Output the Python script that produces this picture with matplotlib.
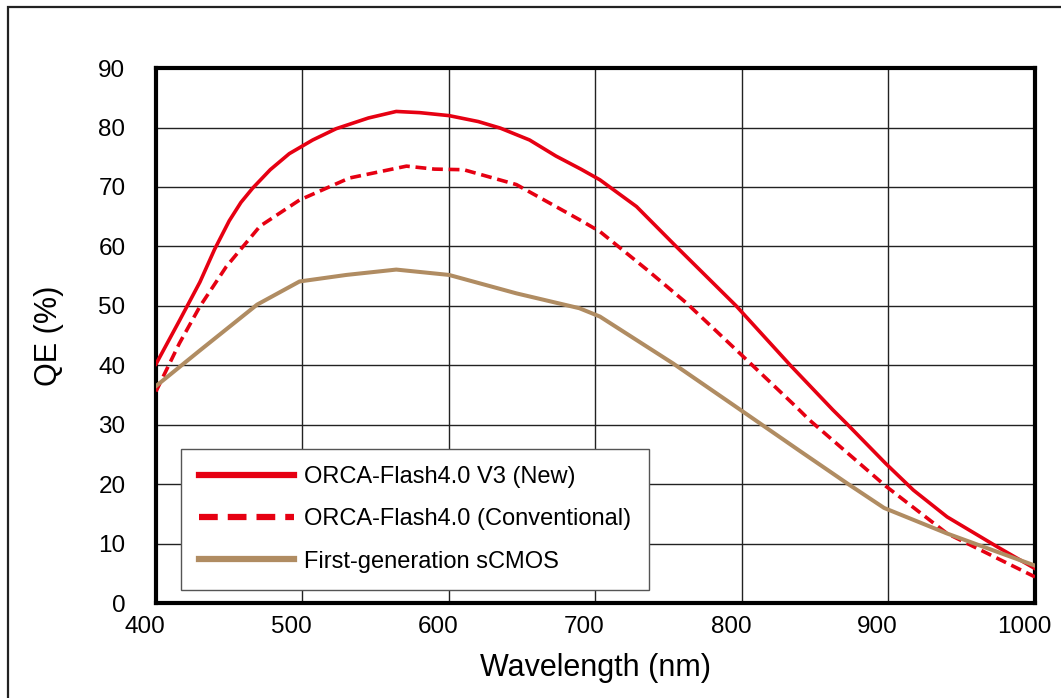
import matplotlib
matplotlib.use("Agg")
import matplotlib.pyplot as plt
from matplotlib.patches import Rectangle
from matplotlib.transforms import ScaledTranslation

plt.rcParams['font.family'] = ['Liberation Sans', 'DejaVu Sans']

# QE curves
wl_v3 = [400, 416, 430, 440, 450, 458, 466, 478, 491, 507, 523, 545, 564, 580, 600, 620, 635, 655, 673, 690,
         703, 728, 755, 796, 833, 862, 871, 898, 917, 940, 974, 1000]
qe_v3 = [40.2, 47.5, 54.0, 59.5, 64.3, 67.4, 69.8, 72.9, 75.6, 77.9, 79.8, 81.6, 82.7, 82.5, 82.0, 81.0, 79.9, 77.9, 75.2, 73.0,
         71.2, 66.7, 60.0, 50.0, 40.0, 32.5, 30.3, 23.5, 19.0, 14.5, 9.5, 5.8]

wl_conv = [400, 416, 430, 448, 471, 498, 532, 571, 590, 610, 646, 689, 703, 735, 762, 796,
           837, 846, 898, 940, 1000]
qe_conv = [35.6, 43.7, 49.9, 56.6, 63.4, 67.8, 71.5, 73.5, 73.0, 72.9, 70.4, 64.5, 62.5, 56.1, 50.5, 42.6,
           33.0, 30.8, 19.7, 11.7, 4.4]

wl_gen1 = [400, 430, 469, 498, 530, 564, 600, 646, 689, 703, 753, 796, 840, 872, 897, 940, 1000]
qe_gen1 = [36.5, 42.5, 50.2, 54.1, 55.2, 56.1, 55.2, 52.1, 49.6, 48.2, 40.3, 33.0, 25.5, 20.1, 16.0, 11.7, 6.3]

labels = ["ORCA-Flash4.0 V3 (New)", "ORCA-Flash4.0 (Conventional)", "First-generation sCMOS"]
red = '#e60012'
tan = '#b08c62'

fig = plt.figure(figsize=(10.61, 6.98), dpi=100)
ax = fig.add_axes([0.147, 0.136, 0.8285, 0.7665])

ax.plot(wl_v3, qe_v3, color=red, lw=2.6, label=labels[0], zorder=3)
ax.plot(wl_conv, qe_conv, color=red, lw=2.6, dashes=(3, 1.6), label=labels[1], zorder=3)
ax.plot(wl_gen1, qe_gen1, color=tan, lw=2.9, label=labels[2], zorder=3)

ax.set_xlim(400, 1000)
ax.set_ylim(0, 90)
ax.set_xticks(range(400, 1001, 100))
ax.set_yticks(range(0, 91, 10))
ax.grid(True, color='#222222', lw=1.0)
ax.set_axisbelow(True)
ax.tick_params(axis='both', length=0, labelsize=17.5)
ax.tick_params(axis='y', pad=22)
ax.tick_params(axis='x', pad=9)
# x tick labels sit a little left of their grid lines in the original
shift = ScaledTranslation(-0.11, 0, fig.dpi_scale_trans)
for lbl in ax.get_xticklabels():
    lbl.set_transform(lbl.get_transform() + shift)
for s in ax.spines.values():
    s.set_linewidth(3)
    s.set_color('black')

ax.set_xlabel("Wavelength (nm)", fontsize=22, labelpad=11)
ax.set_ylabel("QE (%)", fontsize=22, labelpad=25)

leg = ax.legend(loc='lower left', bbox_to_anchor=(0.029, 0.024), borderaxespad=0,
                fontsize=17, handlelength=4.0, handletextpad=0.45, labelspacing=0.85,
                borderpad=0.75, fancybox=False, framealpha=1, edgecolor='#555555')
leg.get_frame().set_linewidth(1.0)
for h in leg.get_lines():
    h.set_linewidth(4.5)

# outer frame (runs off the right and bottom edges)
fig.patches.append(Rectangle((8 / 1061, -0.2), 1.2, 1.2 - 7 / 698,
                             transform=fig.transFigure, fill=False,
                             edgecolor='#222222', lw=1.6, clip_on=False))

fig.savefig("out.png", dpi=100)
